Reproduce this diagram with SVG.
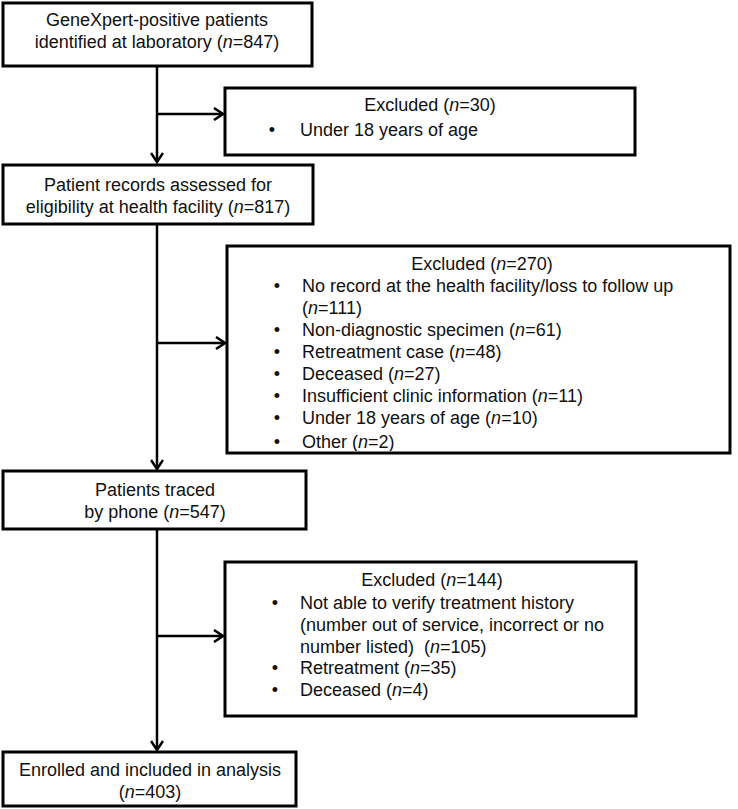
<svg xmlns="http://www.w3.org/2000/svg" width="738" height="809" viewBox="0 0 738 809">
<style>
.box{fill:#fff;stroke:#000;stroke-width:3}
text{font-family:"Liberation Sans",Arial,sans-serif;font-size:18px;fill:#111}
.c{text-anchor:middle}
.b{text-anchor:middle}
.ln{fill:none;stroke:#000;stroke-width:2.5}
</style>
<defs>
<marker id="ah" viewBox="0 0 12 14" refX="10" refY="7" markerWidth="12" markerHeight="14" markerUnits="userSpaceOnUse" orient="auto">
<path d="M1,1 L10,7 L1,13" fill="none" stroke="#000" stroke-width="2.5"/>
</marker>
<clipPath id="clip4"><rect x="228" y="247" width="501" height="204"/></clipPath>
</defs>
<rect width="738" height="809" fill="#fff"/>
<g id="connectors">
<line class="ln" x1="157" y1="66" x2="157" y2="162" marker-end="url(#ah)"/>
<line class="ln" x1="157" y1="114" x2="223" y2="114" marker-end="url(#ah)"/>
<line class="ln" x1="157" y1="224" x2="157" y2="469" marker-end="url(#ah)"/>
<line class="ln" x1="157" y1="343" x2="225" y2="343" marker-end="url(#ah)"/>
<line class="ln" x1="157" y1="529" x2="157" y2="750" marker-end="url(#ah)"/>
<line class="ln" x1="157" y1="636" x2="223" y2="636" marker-end="url(#ah)"/>
</g>
<g id="n1">
<rect class="box" x="3" y="3" width="309" height="63"/>
<text class="c" x="157" y="26">GeneXpert-positive patients</text>
<text class="c" x="157" y="48">identified at laboratory (<tspan font-style="italic">n</tspan>=847)</text>
</g>
<g id="n2">
<rect class="box" x="225" y="88" width="410" height="67"/>
<text class="c" x="430" y="111">Excluded (<tspan font-style="italic">n</tspan>=30)</text>
<text class="b" x="272" y="136">•</text>
<text x="300" y="136">Under 18 years of age</text>
</g>
<g id="n3">
<rect class="box" x="3" y="165" width="310" height="59"/>
<text class="c" x="158" y="191">Patient records assessed for</text>
<text class="c" x="158" y="213">eligibility at health facility (<tspan font-style="italic">n</tspan>=817)</text>
</g>
<g id="n4">
<rect class="box" x="227" y="246" width="503" height="207"/>
<g clip-path="url(#clip4)">
<text class="c" x="482" y="270">Excluded (<tspan font-style="italic">n</tspan>=270)</text>
<text class="b" x="277" y="292">•</text>
<text x="302" y="292">No record at the health facility/loss to follow up</text>
<text x="302" y="314">(<tspan font-style="italic">n</tspan>=111)</text>
<text class="b" x="277" y="336">•</text>
<text x="302" y="336">Non-diagnostic specimen (<tspan font-style="italic">n</tspan>=61)</text>
<text class="b" x="277" y="358">•</text>
<text x="302" y="358">Retreatment case (<tspan font-style="italic">n</tspan>=48)</text>
<text class="b" x="277" y="380">•</text>
<text x="302" y="380">Deceased (<tspan font-style="italic">n</tspan>=27)</text>
<text class="b" x="277" y="402">•</text>
<text x="302" y="402">Insufficient clinic information (<tspan font-style="italic">n</tspan>=11)</text>
<text class="b" x="277" y="424">•</text>
<text x="302" y="424">Under 18 years of age (<tspan font-style="italic">n</tspan>=10)</text>
<text class="b" x="277" y="448">•</text>
<text x="302" y="448">Other (<tspan font-style="italic">n</tspan>=2)</text>
</g>
</g>
<g id="n5">
<rect class="box" x="3" y="471" width="303" height="58"/>
<text class="c" x="155" y="496">Patients traced</text>
<text class="c" x="155" y="518">by phone (<tspan font-style="italic">n</tspan>=547)</text>
</g>
<g id="n6">
<rect class="box" x="225" y="562" width="411" height="154"/>
<text class="c" x="432" y="586">Excluded (<tspan font-style="italic">n</tspan>=144)</text>
<text class="b" x="275" y="609">•</text>
<text x="300" y="609">Not able to verify treatment history</text>
<text x="300" y="631">(number out of service, incorrect or no</text>
<text x="300" y="653">number listed)&#160; (<tspan font-style="italic">n</tspan>=105)</text>
<text class="b" x="275" y="674">•</text>
<text x="300" y="674">Retreatment (<tspan font-style="italic">n</tspan>=35)</text>
<text class="b" x="275" y="696">•</text>
<text x="300" y="696">Deceased (<tspan font-style="italic">n</tspan>=4)</text>
</g>
<g id="n7">
<rect class="box" x="3" y="752" width="293" height="54"/>
<text class="c" x="150" y="776">Enrolled and included in analysis</text>
<text class="c" x="150" y="798">(<tspan font-style="italic">n</tspan>=403)</text>
</g>
</svg>
